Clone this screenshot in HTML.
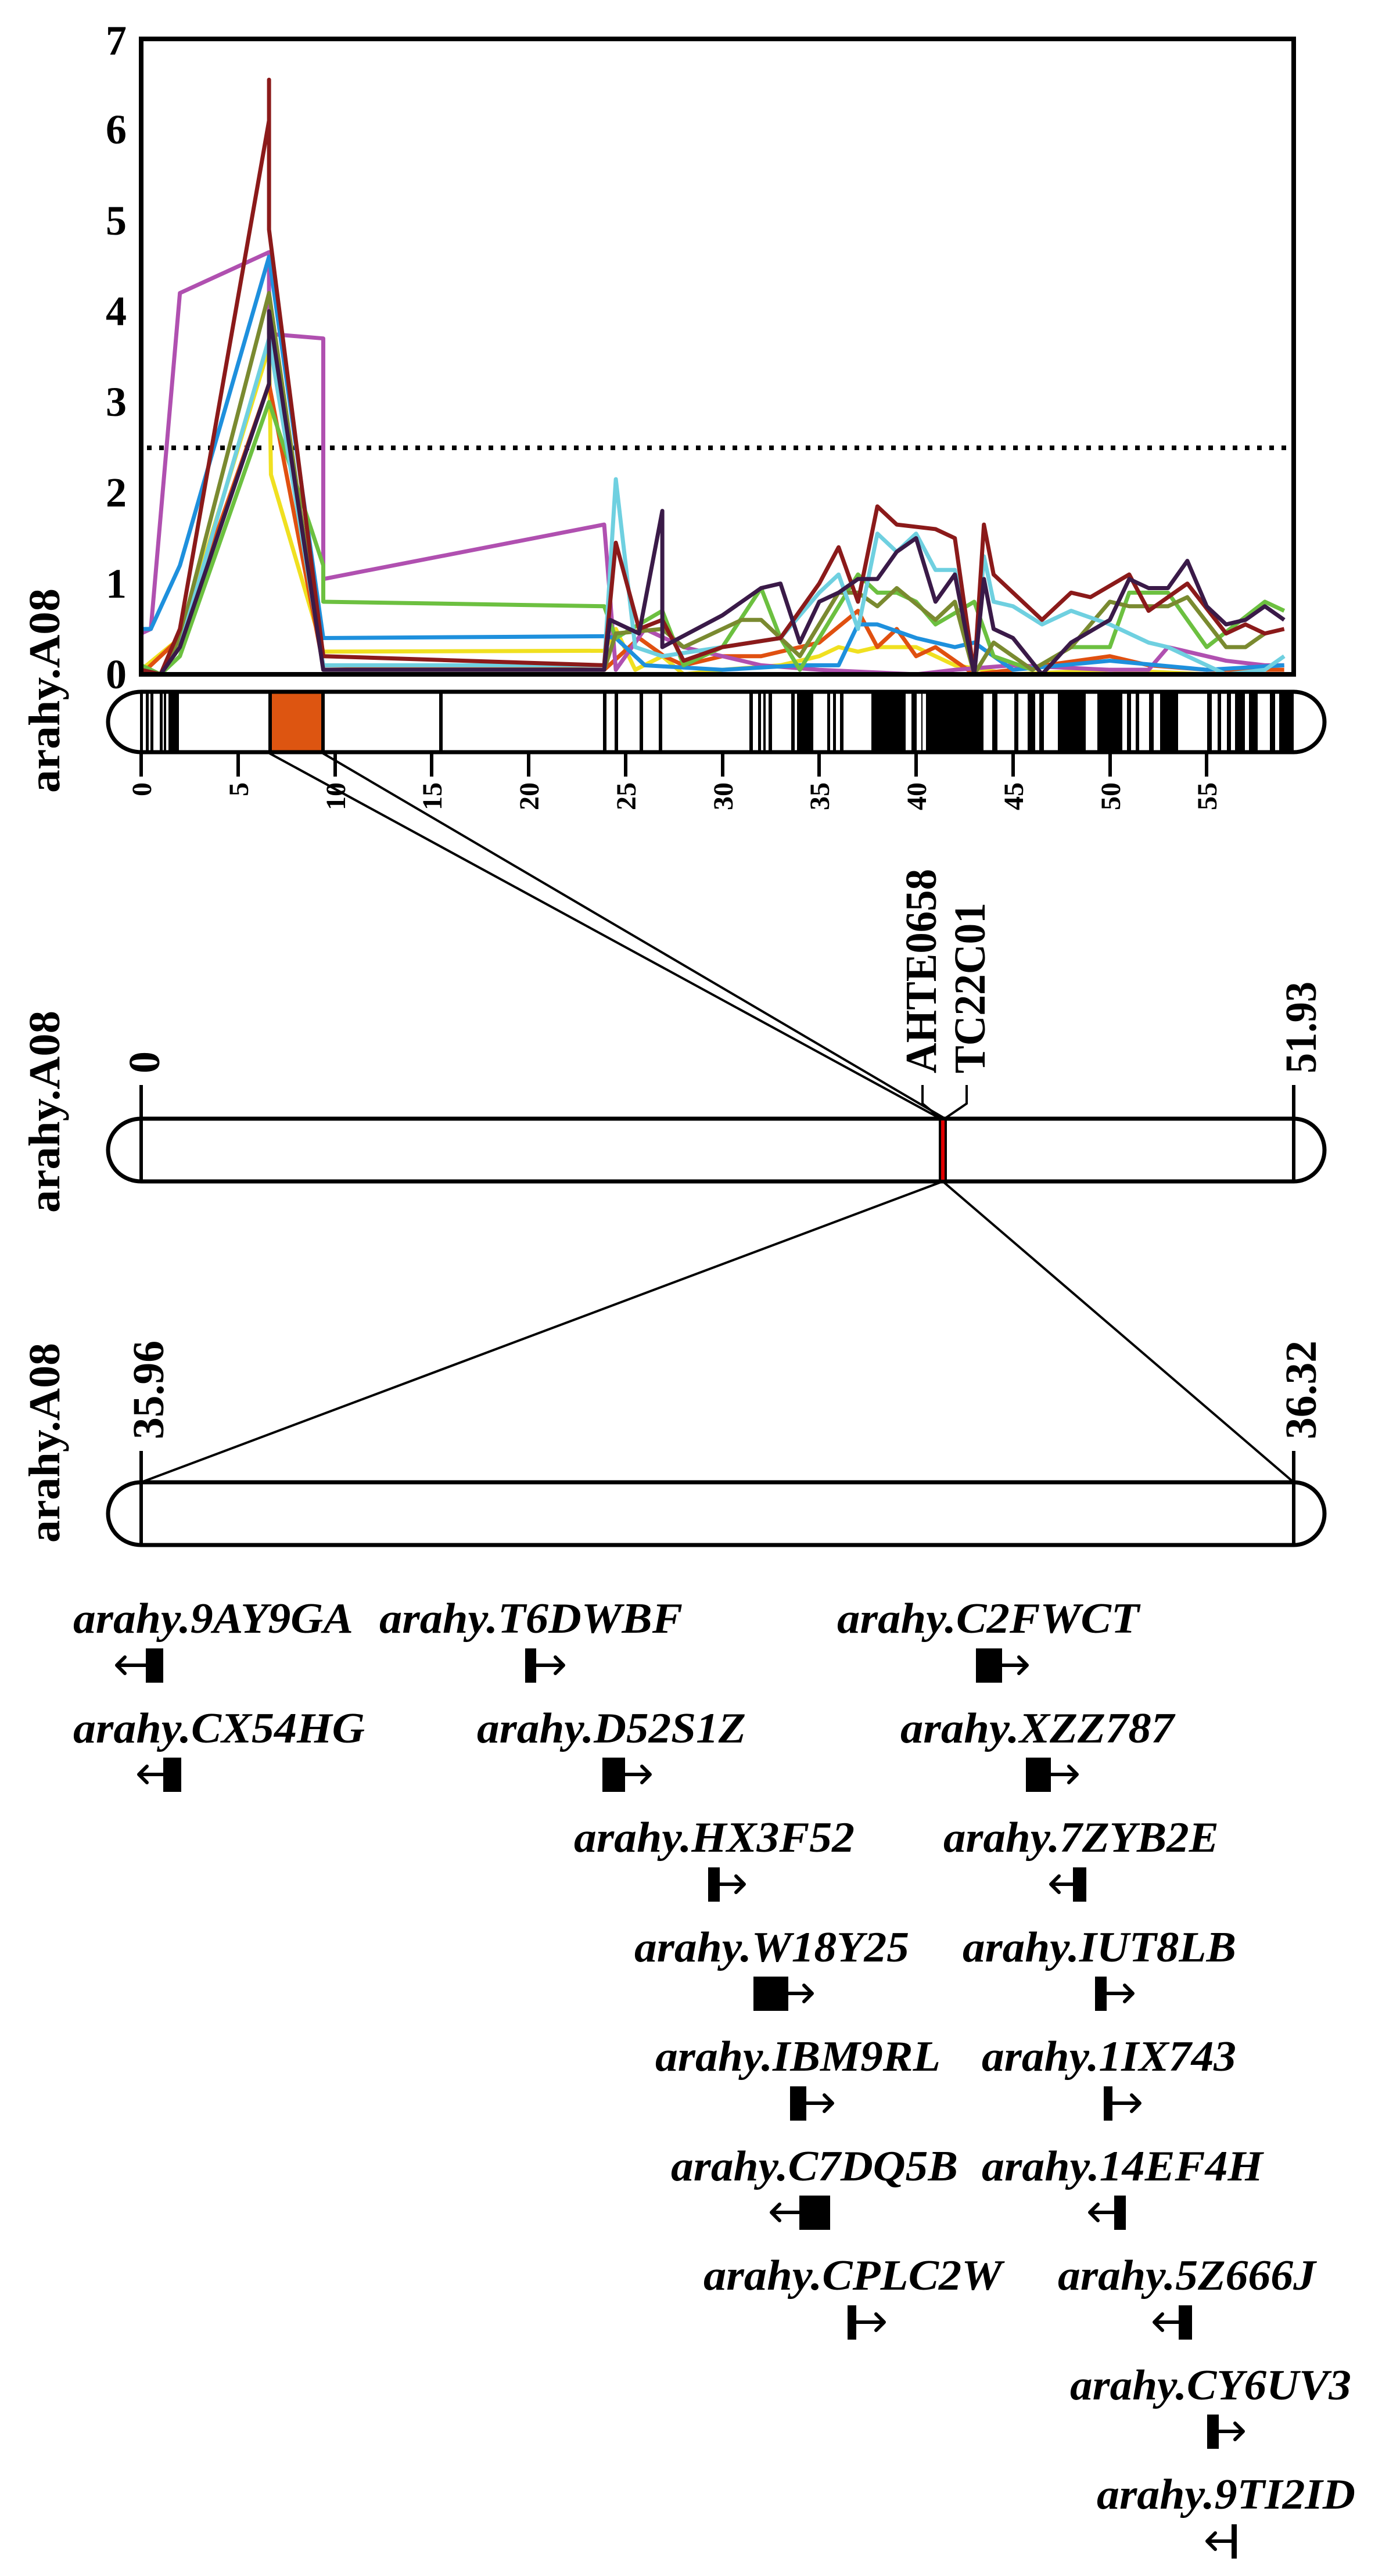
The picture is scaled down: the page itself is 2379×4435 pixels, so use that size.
<!DOCTYPE html>
<html><head><meta charset="utf-8"><style>
html,body{margin:0;padding:0;background:#fff;}
svg{display:block;}
text{font-family:"Liberation Serif",serif;font-weight:bold;fill:#000;}
.g{font-style:italic;font-size:74px;}
</style></head><body>
<svg width="2379" height="4435" viewBox="0 0 2379 4435" xmlns="http://www.w3.org/2000/svg">
<rect width="2379" height="4435" fill="#fff"/>

<g font-size="72" text-anchor="end" dominant-baseline="central">
<text x="218" y="1161">0</text><text x="218" y="1005">1</text><text x="218" y="848">2</text><text x="218" y="692">3</text><text x="218" y="536">4</text><text x="218" y="380">5</text><text x="218" y="223">6</text><text x="218" y="70">7</text>
</g>

<line x1="253" y1="771" x2="2222" y2="771" stroke="#000" stroke-width="8" stroke-dasharray="8,13"/>

<g transform="translate(243,1161) scale(33.35,-156.3)" fill="none" stroke-width="7" stroke-linejoin="round">
<polyline vector-effect="non-scaling-stroke" stroke="#f0e020" points="0,0.05 2,0.4 6.6,3.6 6.7,2.2 9.4,0.25 23.9,0.26 24.5,0.5 25.5,0.05 26.9,0.2 28,0 30,0.05 33,0.1 35,0.2 36,0.3 37,0.25 38,0.3 40,0.3 42,0.1 45,0 50,0.05 55,0 59,0"/>
<polyline vector-effect="non-scaling-stroke" stroke="#e05010" points="0,0 2,0.4 6.6,3.2 9.4,0.1 23.9,0.05 25.7,0.4 27,0.2 28,0.1 30,0.2 32,0.2 34,0.3 35,0.35 37,0.7 38,0.3 39,0.5 40,0.2 41,0.3 43,0 45,0.05 50,0.2 52,0.1 55,0.05 59,0.05"/>
<polyline vector-effect="non-scaling-stroke" stroke="#b050b0" points="0,0.45 0.5,0.5 2,4.2 6.6,4.65 6.6,3.75 9.4,3.7 9.4,1.05 23.9,1.65 24.5,0.05 26,0.5 28,0.3 32,0.1 35,0.05 40,0 42,0.05 45,0.1 50,0.05 52,0.05 53,0.3 56,0.15 58,0.1 59,0.1"/>
<polyline vector-effect="non-scaling-stroke" stroke="#1e90dd" points="0,0.5 0.5,0.5 2,1.2 6.6,4.6 9.4,0.4 23.9,0.42 24.5,0.4 26,0.1 30,0.05 34,0.1 36,0.1 37,0.55 38,0.55 40,0.4 42,0.3 43,0.35 45,0.05 50,0.15 55,0.05 59,0.1"/>
<polyline vector-effect="non-scaling-stroke" stroke="#6cc040" points="0,0.1 1,0 2,0.2 6.6,3.0 9.4,1.2 9.4,0.8 23.9,0.75 24.5,0.4 26.9,0.7 28,0.1 30,0.3 32,0.95 33,0.4 34,0.05 35,0.4 37,1.1 38,0.9 39,0.9 40,0.8 41,0.55 43,0.8 44,0.2 46,0.05 48,0.3 50,0.3 51,0.9 53,0.9 55,0.3 58,0.8 59,0.7"/>
<polyline vector-effect="non-scaling-stroke" stroke="#7a8a30" points="0,0.05 1,0 2,0.4 6.6,4.2 9.4,0.05 23.9,0.05 24.5,0.45 26.9,0.5 28,0.3 31,0.6 32,0.6 34,0.2 36,0.9 37,0.9 38,0.75 39,0.95 41,0.6 42,0.8 43,0 44,0.35 46,0.05 48,0.3 50,0.8 51,0.75 53,0.75 54,0.85 56,0.3 57,0.3 58,0.45"/>
<polyline vector-effect="non-scaling-stroke" stroke="#6fd0e0" points="0,0.05 1,0 2,0.3 6.6,3.7 9.4,0.1 23.9,0.1 24.5,2.15 25.5,0.3 26.9,0.2 30,0.3 33,0.4 35,0.9 36,1.1 37,0.5 38,1.55 39,1.35 40,1.55 41,1.15 42,1.15 43,0 43.5,1.3 44,0.8 45,0.75 46.5,0.55 48,0.7 50,0.55 52,0.35 53,0.3 56,0 58,0.05 59,0.2"/>
<polyline vector-effect="non-scaling-stroke" stroke="#8b1a1a" points="0,0.05 1,0 2,0.5 6.6,6.1 6.6,6.55 6.6,4.9 9.4,0.2 23.9,0.1 24.5,1.45 25.7,0.5 26.9,0.6 28,0.15 30,0.3 33,0.4 35,1.0 36,1.4 37,0.8 38,1.85 39,1.65 41,1.6 42,1.5 43,0 43.5,1.65 44,1.1 45,0.9 46.5,0.6 48,0.9 49,0.85 51,1.1 52,0.7 54,1.0 56,0.45 57,0.55 58,0.45 59,0.5"/>
<polyline vector-effect="non-scaling-stroke" stroke="#3a1a48" points="0,0 1,0 2,0.3 6.6,3.2 6.6,4.0 9.4,0.05 23.9,0.05 24.2,0.6 25.7,0.45 26.9,1.8 26.9,0.3 30,0.65 32,0.95 33,1.0 34,0.35 35,0.8 36,0.9 37,1.05 38,1.05 39,1.35 40,1.5 41,0.8 42,1.1 43,0 43.5,1.05 44,0.5 45,0.4 46.5,0 48,0.35 50,0.6 51,1.05 52,0.95 53,0.95 54,1.25 55,0.75 56,0.55 57,0.6 58,0.75 59,0.6"/>
</g>

<rect x="243" y="67" width="1984" height="1094" fill="none" stroke="#000" stroke-width="8"/>

<g>
<rect x="464" y="1191" width="92" height="104" fill="#dd5511"/>
<g fill="#000">
<rect x="241" y="1191" width="5" height="104"/><rect x="251" y="1191" width="5" height="104"/><rect x="259" y="1191" width="5" height="104"/><rect x="275" y="1191" width="5" height="104"/><rect x="282" y="1191" width="4" height="104"/><rect x="290" y="1191" width="18" height="104"/>
<rect x="462" y="1191" width="6" height="104"/><rect x="553" y="1191" width="6" height="104"/>
<rect x="756" y="1191" width="6" height="104"/>
<rect x="1038" y="1191" width="6" height="104"/><rect x="1058" y="1191" width="6" height="104"/><rect x="1101" y="1191" width="6" height="104"/><rect x="1134" y="1191" width="6" height="104"/>
<rect x="1290" y="1191" width="6" height="104"/><rect x="1305" y="1191" width="5" height="104"/><rect x="1314" y="1191" width="4" height="104"/><rect x="1323" y="1191" width="6" height="104"/><rect x="1362" y="1191" width="6" height="104"/><rect x="1372" y="1191" width="28" height="104"/><rect x="1424" y="1191" width="5" height="104"/><rect x="1434" y="1191" width="5" height="104"/><rect x="1446" y="1191" width="6" height="104"/><rect x="1500" y="1191" width="56" height="104"/>
<rect x="1555" y="1191" width="4" height="104"/><rect x="1569" y="1191" width="9" height="104"/><rect x="1586" y="1191" width="2" height="104"/><rect x="1594" y="1191" width="99" height="104"/><rect x="1708" y="1191" width="9" height="104"/><rect x="1746" y="1191" width="7" height="104"/><rect x="1769" y="1191" width="13" height="104"/><rect x="1789" y="1191" width="8" height="104"/><rect x="1821" y="1191" width="48" height="104"/><rect x="1889" y="1191" width="43" height="104"/><rect x="1940" y="1191" width="7" height="104"/><rect x="1955" y="1191" width="6" height="104"/><rect x="1978" y="1191" width="8" height="104"/><rect x="1997" y="1191" width="31" height="104"/><rect x="2078" y="1191" width="8" height="104"/><rect x="2096" y="1191" width="6" height="104"/><rect x="2112" y="1191" width="7" height="104"/><rect x="2126" y="1191" width="17" height="104"/><rect x="2150" y="1191" width="15" height="104"/><rect x="2186" y="1191" width="9" height="104"/><rect x="2202" y="1191" width="25" height="104"/>
</g>
<path d="M243,1191 H2227 A53,52 0 0 1 2227,1295 H243 A57,52 0 0 1 243,1191 Z" fill="none" stroke="#000" stroke-width="7"/>
</g>
<g stroke="#000" stroke-width="6">
<line x1="243" y1="1297" x2="243" y2="1337"/><line x1="410" y1="1297" x2="410" y2="1337"/><line x1="577" y1="1297" x2="577" y2="1337"/><line x1="743" y1="1297" x2="743" y2="1337"/><line x1="910" y1="1297" x2="910" y2="1337"/><line x1="1077" y1="1297" x2="1077" y2="1337"/><line x1="1244" y1="1297" x2="1244" y2="1337"/><line x1="1410" y1="1297" x2="1410" y2="1337"/><line x1="1577" y1="1297" x2="1577" y2="1337"/><line x1="1744" y1="1297" x2="1744" y2="1337"/><line x1="1911" y1="1297" x2="1911" y2="1337"/><line x1="2077" y1="1297" x2="2077" y2="1337"/>
</g>
<g font-size="48" text-anchor="end">
<text transform="translate(260,1347) rotate(-90)">0</text>
<text transform="translate(427,1347) rotate(-90)">5</text>
<text transform="translate(594,1347) rotate(-90)">10</text>
<text transform="translate(760,1347) rotate(-90)">15</text>
<text transform="translate(927,1347) rotate(-90)">20</text>
<text transform="translate(1094,1347) rotate(-90)">25</text>
<text transform="translate(1261,1347) rotate(-90)">30</text>
<text transform="translate(1427,1347) rotate(-90)">35</text>
<text transform="translate(1594,1347) rotate(-90)">40</text>
<text transform="translate(1761,1347) rotate(-90)">45</text>
<text transform="translate(1928,1347) rotate(-90)">50</text>
<text transform="translate(2094,1347) rotate(-90)">55</text>
</g>

<g font-size="76" text-anchor="middle">
<text transform="translate(102,1189) rotate(-90)" textLength="352" lengthAdjust="spacingAndGlyphs">arahy.A08</text>
<text transform="translate(102,1914) rotate(-90)" textLength="348" lengthAdjust="spacingAndGlyphs">arahy.A08</text>
<text transform="translate(102,2484) rotate(-90)" textLength="344" lengthAdjust="spacingAndGlyphs">arahy.A08</text>
</g>

<g stroke="#000" stroke-width="4" fill="none">
<line x1="464" y1="1297" x2="1619" y2="1926"/>
<line x1="556" y1="1297" x2="1627" y2="1926"/>
<line x1="1623" y1="2034" x2="243" y2="2552"/>
<line x1="1623" y1="2034" x2="2227" y2="2552"/>
<polyline points="1620,1926 1588,1900 1588,1868"/>
<polyline points="1626,1926 1664,1900 1664,1868"/>
</g>

<path d="M243,1926 H2227 A53,54 0 0 1 2227,2034 H243 A57,54 0 0 1 243,1926 Z" fill="none" stroke="#000" stroke-width="7"/>
<rect x="1616" y="1926" width="14" height="108" fill="#000"/>
<rect x="1620" y="1929" width="6" height="102" fill="#e00000"/>
<g stroke="#000" stroke-width="6">
<line x1="243" y1="1868" x2="243" y2="2034"/>
<line x1="2227" y1="1868" x2="2227" y2="2034"/>
<line x1="243" y1="2498" x2="243" y2="2660"/>
<line x1="2227" y1="2498" x2="2227" y2="2660"/>
</g>
<g font-size="76" text-anchor="start">
<text transform="translate(274,1848) rotate(-90)">0</text>
<text transform="translate(2265,1848) rotate(-90)" textLength="158" lengthAdjust="spacingAndGlyphs">51.93</text>
<text transform="translate(1611,1848) rotate(-90)" textLength="352" lengthAdjust="spacingAndGlyphs">AHTE0658</text>
<text transform="translate(1695,1848) rotate(-90)" textLength="294" lengthAdjust="spacingAndGlyphs">TC22C01</text>
<text transform="translate(281,2478) rotate(-90)" textLength="170" lengthAdjust="spacingAndGlyphs">35.96</text>
<text transform="translate(2265,2478) rotate(-90)" textLength="170" lengthAdjust="spacingAndGlyphs">36.32</text>
</g>

<path d="M243,2552 H2227 A53,54 0 0 1 2227,2660 H243 A57,54 0 0 1 243,2552 Z" fill="none" stroke="#000" stroke-width="7"/>

<g class="g">
<text class="g" x="126" y="2811" textLength="482" lengthAdjust="spacingAndGlyphs">arahy.9AY9GA</text>
<text class="g" x="653" y="2811" textLength="522" lengthAdjust="spacingAndGlyphs">arahy.T6DWBF</text>
<text class="g" x="1441" y="2811" textLength="520" lengthAdjust="spacingAndGlyphs">arahy.C2FWCT</text>
<text class="g" x="126" y="3000" textLength="502" lengthAdjust="spacingAndGlyphs">arahy.CX54HG</text>
<text class="g" x="821" y="3000" textLength="463" lengthAdjust="spacingAndGlyphs">arahy.D52S1Z</text>
<text class="g" x="1550" y="3000" textLength="471" lengthAdjust="spacingAndGlyphs">arahy.XZZ787</text>
<text class="g" x="988" y="3188" textLength="483" lengthAdjust="spacingAndGlyphs">arahy.HX3F52</text>
<text class="g" x="1624" y="3188" textLength="474" lengthAdjust="spacingAndGlyphs">arahy.7ZYB2E</text>
<text class="g" x="1092" y="3377" textLength="473" lengthAdjust="spacingAndGlyphs">arahy.W18Y25</text>
<text class="g" x="1657" y="3377" textLength="471" lengthAdjust="spacingAndGlyphs">arahy.IUT8LB</text>
<text class="g" x="1128" y="3565" textLength="491" lengthAdjust="spacingAndGlyphs">arahy.IBM9RL</text>
<text class="g" x="1690" y="3565" textLength="438" lengthAdjust="spacingAndGlyphs">arahy.1IX743</text>
<text class="g" x="1155" y="3754" textLength="494" lengthAdjust="spacingAndGlyphs">arahy.C7DQ5B</text>
<text class="g" x="1690" y="3754" textLength="484" lengthAdjust="spacingAndGlyphs">arahy.14EF4H</text>
<text class="g" x="1211" y="3942" textLength="514" lengthAdjust="spacingAndGlyphs">arahy.CPLC2W</text>
<text class="g" x="1821" y="3942" textLength="444" lengthAdjust="spacingAndGlyphs">arahy.5Z666J</text>
<text class="g" x="1842" y="4131" textLength="484" lengthAdjust="spacingAndGlyphs">arahy.CY6UV3</text>
<text class="g" x="1888" y="4319" textLength="445" lengthAdjust="spacingAndGlyphs">arahy.9TI2ID</text>
</g>

<g fill="#000" stroke="none">
<rect x="251" y="2838" width="30" height="59"/>
<rect x="904" y="2838" width="19" height="59"/>
<rect x="1680" y="2838" width="45" height="59"/>
<rect x="281" y="3026" width="31" height="59"/>
<rect x="1037" y="3026" width="39" height="59"/>
<rect x="1766" y="3026" width="43" height="59"/>
<rect x="1219" y="3215" width="20" height="59"/>
<rect x="1847" y="3215" width="23" height="59"/>
<rect x="1297" y="3403" width="60" height="59"/>
<rect x="1885" y="3403" width="20" height="59"/>
<rect x="1360" y="3592" width="28" height="59"/>
<rect x="1900" y="3592" width="15" height="59"/>
<rect x="1376" y="3780" width="53" height="59"/>
<rect x="1918" y="3780" width="20" height="59"/>
<rect x="1459" y="3969" width="15" height="59"/>
<rect x="2029" y="3969" width="23" height="59"/>
<rect x="2078" y="4157" width="20" height="59"/>
<rect x="2120" y="4346" width="9" height="59"/>
</g>
<g stroke="#000" stroke-width="6" fill="none" stroke-linecap="round" stroke-linejoin="round">
<path d="M251,2867 H201 M215,2853 L201,2867 L215,2881"/>
<path d="M281,3055 H239 M253,3041 L239,3055 L253,3069"/>
<path d="M1847,3244 H1809 M1823,3230 L1809,3244 L1823,3258"/>
<path d="M1376,3809 H1328 M1342,3795 L1328,3809 L1342,3823"/>
<path d="M1918,3809 H1876 M1890,3795 L1876,3809 L1890,3823"/>
<path d="M2029,3998 H1987 M2001,3984 L1987,3998 L2001,4012"/>
<path d="M2120,4375 H2078 M2092,4361 L2078,4375 L2092,4389"/>
<path d="M923,2867 H970 M956,2853 L970,2867 L956,2881"/>
<path d="M1725,2867 H1768 M1754,2853 L1768,2867 L1754,2881"/>
<path d="M1076,3055 H1119 M1105,3041 L1119,3055 L1105,3069"/>
<path d="M1809,3055 H1854 M1840,3041 L1854,3055 L1840,3069"/>
<path d="M1239,3244 H1281 M1267,3230 L1281,3244 L1267,3258"/>
<path d="M1357,3432 H1398 M1384,3418 L1398,3432 L1384,3446"/>
<path d="M1905,3432 H1950 M1936,3418 L1950,3432 L1936,3446"/>
<path d="M1388,3621 H1433 M1419,3607 L1433,3621 L1419,3635"/>
<path d="M1915,3621 H1962 M1948,3607 L1962,3621 L1948,3635"/>
<path d="M1474,3998 H1522 M1508,3984 L1522,3998 L1508,4012"/>
<path d="M2098,4186 H2140 M2126,4172 L2140,4186 L2126,4200"/>
</g>
</svg>
</body></html>
